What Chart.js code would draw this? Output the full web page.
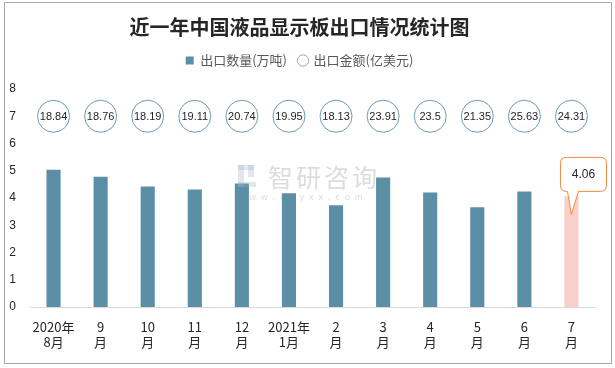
<!DOCTYPE html>
<html>
<head>
<meta charset="utf-8">
<script src="https://cdn.jsdelivr.net/npm/chart.js@4.4.0/dist/chart.umd.min.js"></script>
<style>
  html, body { margin: 0; padding: 0; background: #fff; }
  #wrap { width: 615px; height: 368px; position: relative; }
</style>
</head>
<body>
<div id="wrap"><canvas id="exportChart" width="615" height="368"></canvas></div>
<script>
// Chart data
const months = [
    ['2020年', '8月'], ['9', '月'], ['10', '月'], ['11', '月'], ['12', '月'],
    ['2021年', '1月'], ['2', '月'], ['3', '月'], ['4', '月'], ['5', '月'], ['6', '月'], ['7', '月']
];
const exportVolume = [5.04, 4.78, 4.42, 4.31, 4.53, 4.17, 3.73, 4.75, 4.2, 3.66, 4.24, 4.06];
const exportValue = [18.84, 18.76, 18.19, 19.11, 20.74, 19.95, 18.13, 23.91, 23.5, 21.35, 25.63, 24.31];
const yTicks = [0, 1, 2, 3, 4, 5, 6, 7, 8];

// the value bubbles sit on one row of the left axis
const bubbleRow = 7;

const barBlue = '#5b8fa6';
const barPink = '#f8d0c8';
const cjkFont = '"Noto Sans CJK SC", "Noto Sans", sans-serif';

// Frame, bubble labels, callout and watermark
const decorPlugin = {
    id: 'decor',
    beforeInit(chart) {
        // extra room under the legend
        const fit = chart.legend.fit;
        chart.legend.fit = function() {
            fit.call(this);
            this.height += 12;
        };
    },
    beforeDraw(chart) {
        const c = chart.ctx;
        c.save();
        c.fillStyle = '#fff';
        c.fillRect(0, 0, chart.width, chart.height);
        c.strokeStyle = '#a6a6a6';
        c.lineWidth = 1;
        c.strokeRect(4.5, 2.5, 607, 361);
        c.restore();
    },
    afterDatasetsDraw(chart) {
        const c = chart.ctx;
        const pts = chart.getDatasetMeta(1).data;

        // numbers inside bubbles
        c.save();
        c.font = '11px "Liberation Sans", Arial, sans-serif';
        c.fillStyle = '#262626';
        c.textAlign = 'center';
        c.textBaseline = 'middle';
        pts.forEach((p, i) => c.fillText(String(exportValue[i]), p.x, p.y + 1));
        c.restore();

        // callout for last bar
        const bars = chart.getDatasetMeta(0).data;
        const last = bars[bars.length - 1];
        const bx = last.x, by = last.y;
        const L = bx - 11, R = bx + 35, T = by - 39, B = by - 5, r = 6;
        c.save();
        c.beginPath();
        c.moveTo(L + r, T);
        c.lineTo(R - r, T);
        c.quadraticCurveTo(R, T, R, T + r);
        c.lineTo(R, B - r);
        c.quadraticCurveTo(R, B, R - r, B);
        c.lineTo(bx + 7, B);
        c.lineTo(bx, by + 18);
        c.lineTo(bx - 4, B);
        c.lineTo(L + r, B);
        c.quadraticCurveTo(L, B, L, B - r);
        c.lineTo(L, T + r);
        c.quadraticCurveTo(L, T, L + r, T);
        c.closePath();
        c.fillStyle = '#fff';
        c.fill();
        c.strokeStyle = '#ed8a3a';
        c.lineWidth = 1;
        c.stroke();
        c.font = '12px "Liberation Sans", Arial, sans-serif';
        c.fillStyle = '#262626';
        c.textAlign = 'center';
        c.textBaseline = 'middle';
        c.fillText(String(exportVolume[exportVolume.length - 1]), (L + R) / 2, (T + B) / 2);
        c.restore();

        // watermark
        c.save();
        c.globalAlpha = 0.3;
        c.fillStyle = '#9fb0c8';
        c.fillRect(238, 165, 6, 22);
        c.fillRect(238, 165, 16, 5);
        c.fillRect(248, 165, 6, 12);
        c.fillRect(238, 182, 18, 5);
        c.fillStyle = '#8c8c8c';
        c.font = '25px ' + cjkFont;
        c.textBaseline = 'middle';
        c.letterSpacing = '3px';
        c.fillText('智研咨询', 268, 177);
        c.letterSpacing = '0px';
        c.font = '9px "Liberation Sans", Arial, sans-serif';
        c.fillText('w  w  w  .  c  h  y  x  x  .  c  o  m', 238, 198);
        c.restore();
    }
};

const ctx = document.getElementById('exportChart').getContext('2d');
new Chart(ctx, {
    data: {
        labels: months,
        datasets: [{
            type: 'bar',
            label: '出口数量(万吨)',
            data: exportVolume,
            backgroundColor: exportVolume.map((v, i) => i === exportVolume.length - 1 ? barPink : barBlue),
            barPercentage: 0.3,
            categoryPercentage: 1,
            pointStyle: 'rect'
        }, {
            type: 'line',
            label: '出口金额(亿美元)',
            data: exportValue.map(() => bubbleRow),
            showLine: false,
            pointRadius: 16,
            pointHoverRadius: 16,
            pointBackgroundColor: '#fff',
            pointBorderColor: '#6d9cb3',
            pointBorderWidth: 1,
            backgroundColor: '#fff',
            borderColor: '#6d9cb3',
            pointStyle: 'circle'
        }]
    },
    options: {
        responsive: false,
        animation: false,
        devicePixelRatio: 1,
        layout: {
            padding: { left: 4, right: 20, top: 0, bottom: 12 }
        },
        plugins: {
            title: {
                display: true,
                text: '近一年中国液品显示板出口情况统计图',
                color: '#262626',
                font: { family: cjkFont, size: 20, weight: 'bold' },
                padding: { top: 15, bottom: 3 }
            },
            legend: {
                display: true,
                labels: {
                    usePointStyle: true,
                    boxWidth: 8,
                    boxHeight: 8,
                    color: '#595959',
                    font: { family: cjkFont, size: 13 },
                    padding: 12,
                    generateLabels(chart) {
                        const items = Chart.defaults.plugins.legend.labels.generateLabels(chart);
                        items[0].fillStyle = barBlue;
                        items[0].strokeStyle = barBlue;
                        items[1].fillStyle = '#fff';
                        items[1].strokeStyle = '#8fb0c2';
                        items[1].lineWidth = 1;
                        return items;
                    }
                }
            },
            tooltip: { enabled: false }
        },
        scales: {
            x: {
                grid: { display: false },
                border: { color: '#d9d9d9' },
                ticks: {
                    color: '#262626',
                    font: { family: cjkFont, size: 13 },
                    maxRotation: 0,
                    autoSkip: false,
                    padding: 4
                },
                afterFit(scale) { scale.height = 49; }
            },
            y: {
                min: 0,
                max: 8,
                afterBuildTicks(scale) { scale.ticks = yTicks.map(v => ({ value: v })); },
                grid: { display: false },
                border: { display: false },
                ticks: {
                    color: '#262626',
                    font: { family: '"Liberation Sans", Arial, sans-serif', size: 12 },
                    padding: 6
                },
                afterFit(scale) { scale.width = 26; }
            }
        }
    },
    plugins: [decorPlugin]
});
</script>
</body>
</html>
